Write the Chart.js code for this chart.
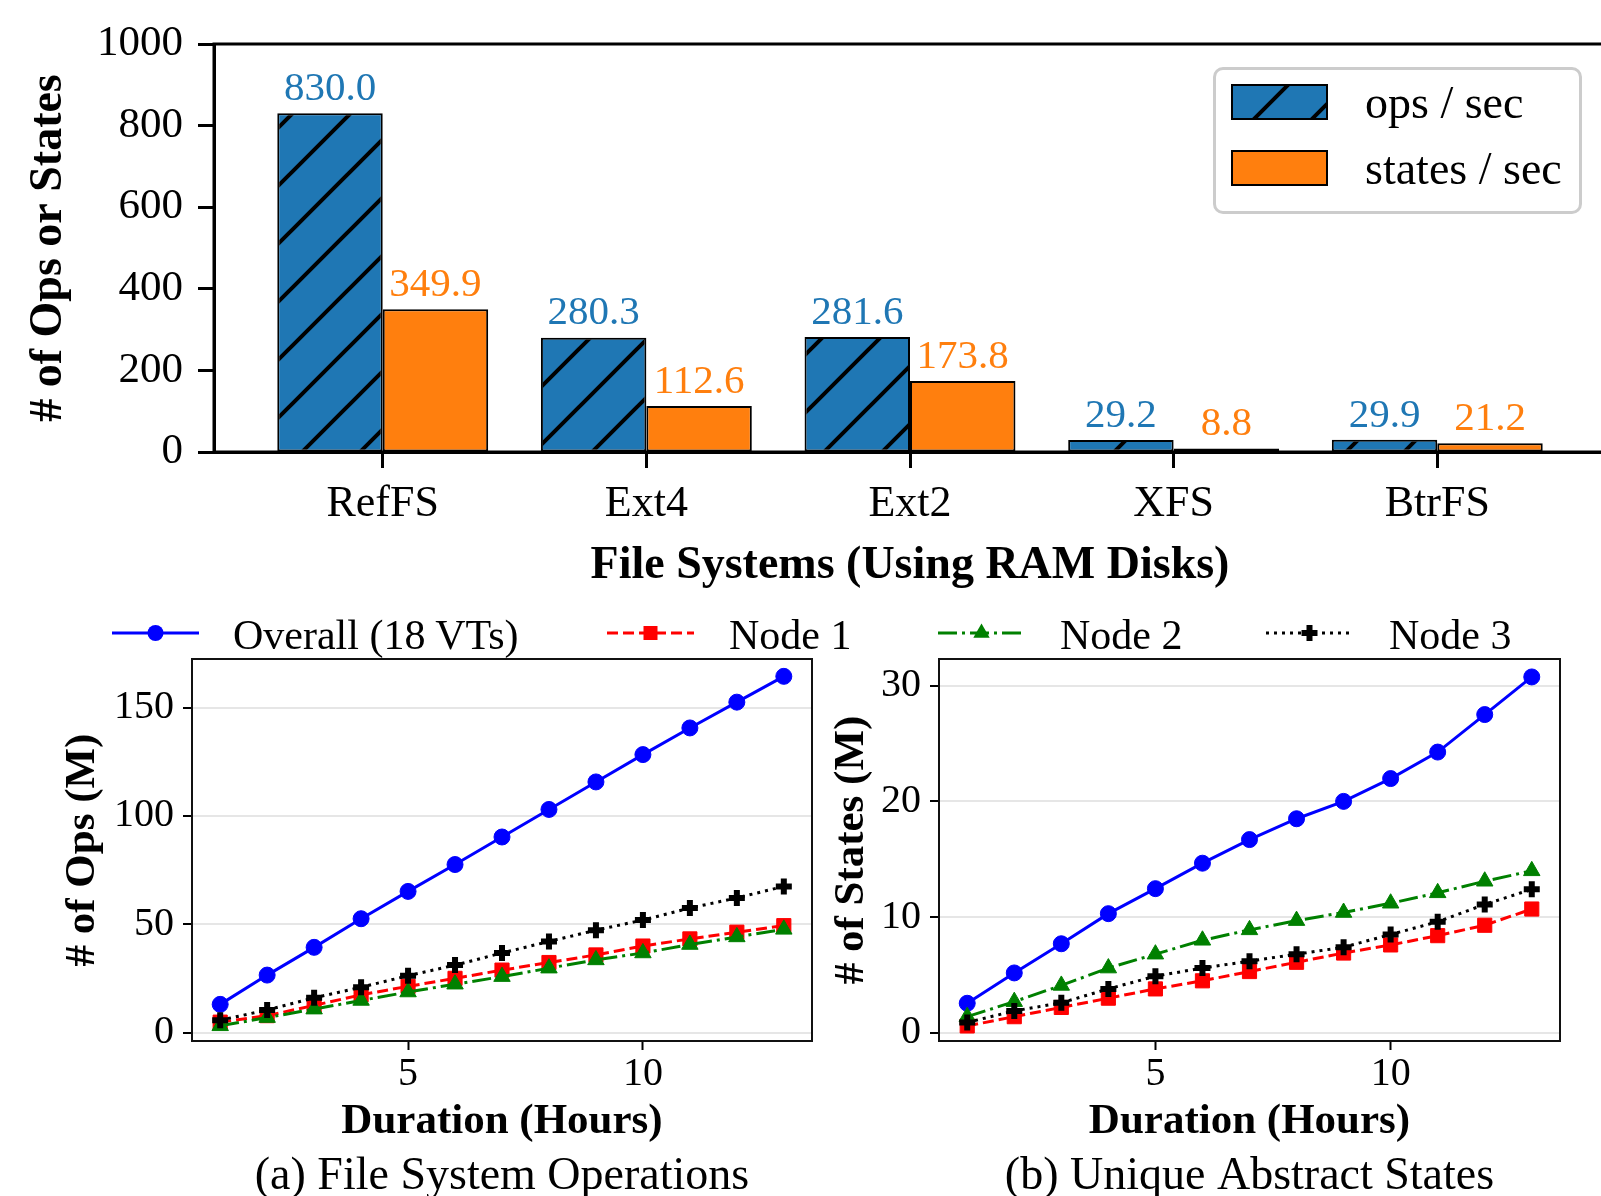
<!DOCTYPE html>
<html>
<head>
<meta charset="utf-8">
<script src="https://cdn.jsdelivr.net/npm/chart.js@4.4.1/dist/chart.umd.min.js"></script>
<style>
  html, body { margin: 0; padding: 0; background: #fff; overflow: hidden; }
  #fig { position: relative; width: 1601px; height: 1196px; overflow: hidden; background: #fff; }
  #fig canvas.chart { position: absolute; }
  .txt { position: absolute; font-family: 'Liberation Serif', 'Times New Roman', serif; color: #000; white-space: nowrap; }
  #barLegend { position: absolute; left: 1213px; top: 67px; width: 363px; height: 141px;
               border: 3px solid #cccccc; border-radius: 10px; background: rgba(255,255,255,0.8); }
  .swatch { position: absolute; }
</style>
</head>
<body>
<div id="fig">
  <canvas id="bars" class="chart" width="1610" height="600" style="left:0;top:0"></canvas>
  <canvas id="ops" class="chart" width="830" height="596" style="left:0;top:600px"></canvas>
  <canvas id="states" class="chart" width="781" height="596" style="left:820px;top:600px"></canvas>

  <div id="barLegend"></div>
  <canvas id="swOps" class="swatch" width="97" height="36" style="left:1231px;top:84px"></canvas>
  <canvas id="swStates" class="swatch" width="97" height="36" style="left:1231px;top:150px"></canvas>
  <div class="txt" style="left:1365px;top:80px;font-size:46px;line-height:46px">ops / sec</div>
  <div class="txt" style="left:1365px;top:146px;font-size:46px;line-height:46px">states / sec</div>

  <canvas id="lgOverall" class="swatch" width="92" height="30" style="left:110px;top:618px"></canvas>
  <canvas id="lgNode1" class="swatch" width="92" height="30" style="left:605px;top:618px"></canvas>
  <canvas id="lgNode2" class="swatch" width="92" height="30" style="left:936px;top:618px"></canvas>
  <canvas id="lgNode3" class="swatch" width="92" height="30" style="left:1264px;top:618px"></canvas>
  <div class="txt" style="left:233px;top:614px;font-size:42px;line-height:42px">Overall (18 VTs)</div>
  <div class="txt" style="left:729px;top:614px;font-size:42px;line-height:42px">Node 1</div>
  <div class="txt" style="left:1060px;top:614px;font-size:42px;line-height:42px">Node 2</div>
  <div class="txt" style="left:1389px;top:614px;font-size:42px;line-height:42px">Node 3</div>
</div>
<script>
// top chart: throughput per file system
var fsNames = ['RefFS', 'Ext4', 'Ext2', 'XFS', 'BtrFS'];
var opsPerSec = [830.0, 280.3, 281.6, 29.2, 29.9];
var statesPerSec = [349.9, 112.6, 173.8, 8.8, 21.2];

// bottom charts: growth over time
var hours = [1, 2, 3, 4, 5, 6, 7, 8, 9, 10, 11, 12, 13];
var opsOverall = [13.1, 26.6, 39.4, 52.6, 65.2, 77.6, 90.3, 103.0, 115.7, 128.3, 140.6, 152.5, 164.4];
var opsNode1 = [4.9, 7.9, 12.6, 17.5, 21.4, 25.1, 28.9, 32.4, 35.9, 40.0, 43.3, 46.4, 49.4];
var opsNode2 = [3.2, 7.0, 10.9, 14.9, 18.8, 22.4, 25.9, 29.8, 33.6, 36.8, 40.7, 44.2, 47.7];
var opsNode3 = [5.8, 10.5, 16.1, 21.0, 26.3, 31.2, 36.8, 42.1, 47.3, 52.0, 57.5, 62.2, 67.5];
var statesOverall = [2.56, 5.18, 7.7, 10.3, 12.46, 14.66, 16.7, 18.5, 20.0, 21.97, 24.26, 27.5, 30.75];
var statesNode1 = [0.6, 1.4, 2.2, 3.0, 3.8, 4.5, 5.3, 6.1, 6.9, 7.6, 8.4, 9.3, 10.7];
var statesNode2 = [1.4, 2.7, 4.1, 5.6, 6.8, 8.0, 8.9, 9.7, 10.4, 11.2, 12.1, 13.1, 14.0];
var statesNode3 = [0.9, 1.9, 2.6, 3.8, 4.9, 5.6, 6.2, 6.8, 7.4, 8.5, 9.6, 11.1, 12.4];

var serif = "'Liberation Serif', 'Times New Roman', serif";
Chart.defaults.font.family = serif;
Chart.defaults.color = '#000000';
Chart.defaults.animation = false;

var blue = '#1f77b4', orange = '#ff7f0e';

// hatch "/" for the ops bars
function hatch(color) {
    var c = document.createElement('canvas');
    c.width = c.height = 58;
    var g = c.getContext('2d');
    g.fillStyle = color;
    g.fillRect(0, 0, 58, 58);
    g.strokeStyle = '#000';
    g.lineWidth = 4;
    g.beginPath();
    g.moveTo(-10, 68); g.lineTo(68, -10);
    g.moveTo(-10, 10); g.lineTo(10, -10);
    g.moveTo(48, 68); g.lineTo(68, 48);
    g.stroke();
    return g.createPattern(c, 'repeat');
}
var opsHatch = hatch(blue);

// box round the plot area
var frame = {
    id: 'frame',
    afterDraw: function(chart, args, opts) {
        var a = chart.chartArea, ctx = chart.ctx;
        ctx.save();
        ctx.strokeStyle = opts.color || '#000';
        ctx.lineWidth = opts.width || 2;
        ctx.strokeRect(a.left, a.top, a.right - a.left, a.bottom - a.top);
        ctx.restore();
    }
};

// value written over each bar
var barLabels = {
    id: 'barLabels',
    afterDatasetsDraw: function(chart) {
        var ctx = chart.ctx;
        ctx.save();
        ctx.font = '41px ' + serif;
        ctx.textAlign = 'center';
        ctx.textBaseline = 'middle';
        chart.data.datasets.forEach(function(ds, i) {
            ctx.fillStyle = ds.labelColor;
            chart.getDatasetMeta(i).data.forEach(function(bar, j) {
                ctx.fillText(ds.data[j].y.toFixed(1), bar.x, bar.y - 24);
            });
        });
        ctx.restore();
    }
};

function pts(xs, ys) {
    return xs.map(function(x, i) { return {x: x, y: ys[i]}; });
}

new Chart(document.getElementById('bars'), {
    type: 'bar',
    data: {
        datasets: [{
            label: 'ops / sec',
            data: pts([0, 1, 2, 3, 4], opsPerSec),
            backgroundColor: opsHatch,
            borderColor: '#000',
            borderWidth: 2,
            borderSkipped: false,
            labelColor: blue
        }, {
            label: 'states / sec',
            data: pts([0, 1, 2, 3, 4], statesPerSec),
            backgroundColor: orange,
            borderColor: '#000',
            borderWidth: 2,
            borderSkipped: false,
            labelColor: orange
        }]
    },
    options: {
        responsive: false,
        layout: {autoPadding: false, padding: {left: 0, top: 44, right: 4, bottom: 0}},
        categoryPercentage: 0.8,
        barPercentage: 1.0,
        scales: {
            x: {
                type: 'linear',
                offset: false,
                min: -0.64,
                max: 4.64,
                afterBuildTicks: function(s) { s.ticks = fsNames.map(function(n, i) { return {value: i}; }); },
                afterFit: function(s) { s.height = 148; },
                ticks: {
                    font: {size: 44},
                    padding: 10,
                    callback: function(v) { return fsNames[v]; }
                },
                grid: {offset: false, drawOnChartArea: false, tickLength: 16, tickWidth: 3, tickColor: '#000'},
                border: {color: '#000', width: 3},
                title: {display: true, text: 'File Systems (Using RAM Disks)',
                        font: {size: 46, weight: 'bold', lineHeight: 1}, padding: {bottom: 11}}
            },
            y: {
                min: 0,
                max: 1000,
                afterFit: function(s) { s.width = 214; },
                ticks: {stepSize: 200, font: {size: 43}, padding: 15,
                        callback: function(v) { return String(v); }},
                grid: {drawOnChartArea: false, tickLength: 16, tickWidth: 3, tickColor: '#000'},
                border: {color: '#000', width: 3},
                title: {display: true, text: '# of Ops or States',
                        font: {size: 46, weight: 'bold', lineHeight: 1}, padding: {top: 26}}
            }
        },
        plugins: {
            legend: {display: false},
            tooltip: {enabled: false},
            frame: {width: 3, color: '#000'}
        }
    },
    plugins: [frame, barLabels]
});

function series(ys, color, dash, style, radius, bw, order) {
    return {
        data: pts(hours, ys),
        borderColor: color,
        backgroundColor: color,
        borderWidth: 3,
        borderDash: dash,
        pointStyle: style,
        pointRadius: radius,
        pointBorderWidth: bw,
        pointBackgroundColor: color,
        pointBorderColor: color,
        tension: 0,
        order: order
    };
}

function lineChart(id, sets, cfg) {
    return new Chart(document.getElementById(id), {
        type: 'line',
        data: {
            datasets: [
                series(sets[0], '#0000ff', [], 'circle', 8, 1, 4),
                series(sets[1], '#ff0000', [11, 5], 'rect', 10, 1, 3),
                series(sets[2], '#008000', [19, 5, 3, 5], 'triangle', 9.5, 1, 2),
                series(sets[3], '#000000', [3, 5], 'cross', 8, 6, 1)
            ]
        },
        options: {
            responsive: false,
            layout: {autoPadding: false, padding: {left: 0, top: 59, right: cfg.padRight, bottom: 0.2}},
            scales: {
                x: {
                    type: 'linear',
                    min: 0.4,
                    max: 13.6,
                    afterFit: function(s) { s.height = 108; },
                    ticks: {stepSize: 5, includeBounds: false, font: {size: 40}, padding: 0},
                    grid: {drawOnChartArea: false, tickLength: 9, tickWidth: 2, tickColor: '#000'},
                    border: {color: '#000', width: 2},
                    title: {display: true, text: 'Duration (Hours)',
                            font: {size: 43, weight: 'bold', lineHeight: 1}, padding: {bottom: 5.5}}
                },
                y: {
                    min: cfg.yMin,
                    max: cfg.yMax,
                    afterFit: function(s) { s.width = cfg.axisWidth; },
                    ticks: {stepSize: cfg.step, includeBounds: false, font: {size: 40}, padding: 9},
                    grid: {color: '#e6e6e6', lineWidth: 2, tickLength: 9, tickWidth: 2, tickColor: '#000'},
                    border: {color: '#000', width: 2},
                    title: {display: true, text: cfg.yTitle,
                            font: {size: 43, weight: 'bold', lineHeight: 1}, padding: {top: cfg.titlePad}}
                }
            },
            plugins: {
                legend: {display: false},
                tooltip: {enabled: false},
                subtitle: {display: true, position: 'bottom', fullSize: false, text: cfg.caption,
                           font: {size: 46, weight: 'normal', lineHeight: 0.8},
                           padding: {top: 10, bottom: 0}, color: '#000'},
                frame: {width: 2, color: '#111'}
            }
        },
        plugins: [frame]
    });
}

lineChart('ops', [opsOverall, opsNode1, opsNode2, opsNode3], {
    yMin: -3.8, yMax: 172.4, step: 50, axisWidth: 192, padRight: 18, titlePad: 61,
    yTitle: '# of Ops (M)', caption: '(a) File System Operations'
});
lineChart('states', [statesOverall, statesNode1, statesNode2, statesNode3], {
    yMin: -0.7, yMax: 32.3, step: 10, axisWidth: 119, padRight: 41, titlePad: 10,
    yTitle: '# of States (M)', caption: '(b) Unique Abstract States'
});

// legend swatches
function swatch(id, fill, hatched) {
    var g = document.getElementById(id).getContext('2d');
    g.fillStyle = hatched ? opsHatch : fill;
    g.fillRect(1, 1, 95, 34);
    g.strokeStyle = '#000';
    g.lineWidth = 2;
    g.strokeRect(1, 1, 95, 34);
}
swatch('swOps', blue, true);
swatch('swStates', orange, false);

function handle(id, color, dash, marker) {
    var g = document.getElementById(id).getContext('2d');
    g.strokeStyle = color;
    g.fillStyle = color;
    g.lineWidth = 3;
    g.setLineDash(dash);
    g.beginPath();
    g.moveTo(2, 15); g.lineTo(89, 15);
    g.stroke();
    g.setLineDash([]);
    var cx = 45.5, cy = 15;
    g.beginPath();
    if (marker === 'circle') {
        g.arc(cx, cy, 8, 0, Math.PI * 2);
        g.fill();
    } else if (marker === 'rect') {
        g.fillRect(cx - 7, cy - 7, 14, 14);
    } else if (marker === 'triangle') {
        g.moveTo(cx, cy - 9.5); g.lineTo(cx + 8.2, cy + 4.8); g.lineTo(cx - 8.2, cy + 4.8);
        g.closePath();
        g.fill();
    } else {
        g.lineWidth = 6;
        g.moveTo(cx - 8, cy); g.lineTo(cx + 8, cy);
        g.moveTo(cx, cy - 8); g.lineTo(cx, cy + 8);
        g.stroke();
    }
}
handle('lgOverall', '#0000ff', [], 'circle');
handle('lgNode1', '#ff0000', [11, 5], 'rect');
handle('lgNode2', '#008000', [19, 5, 3, 5], 'triangle');
handle('lgNode3', '#000000', [3, 5], 'cross');
</script>
</body>
</html>
